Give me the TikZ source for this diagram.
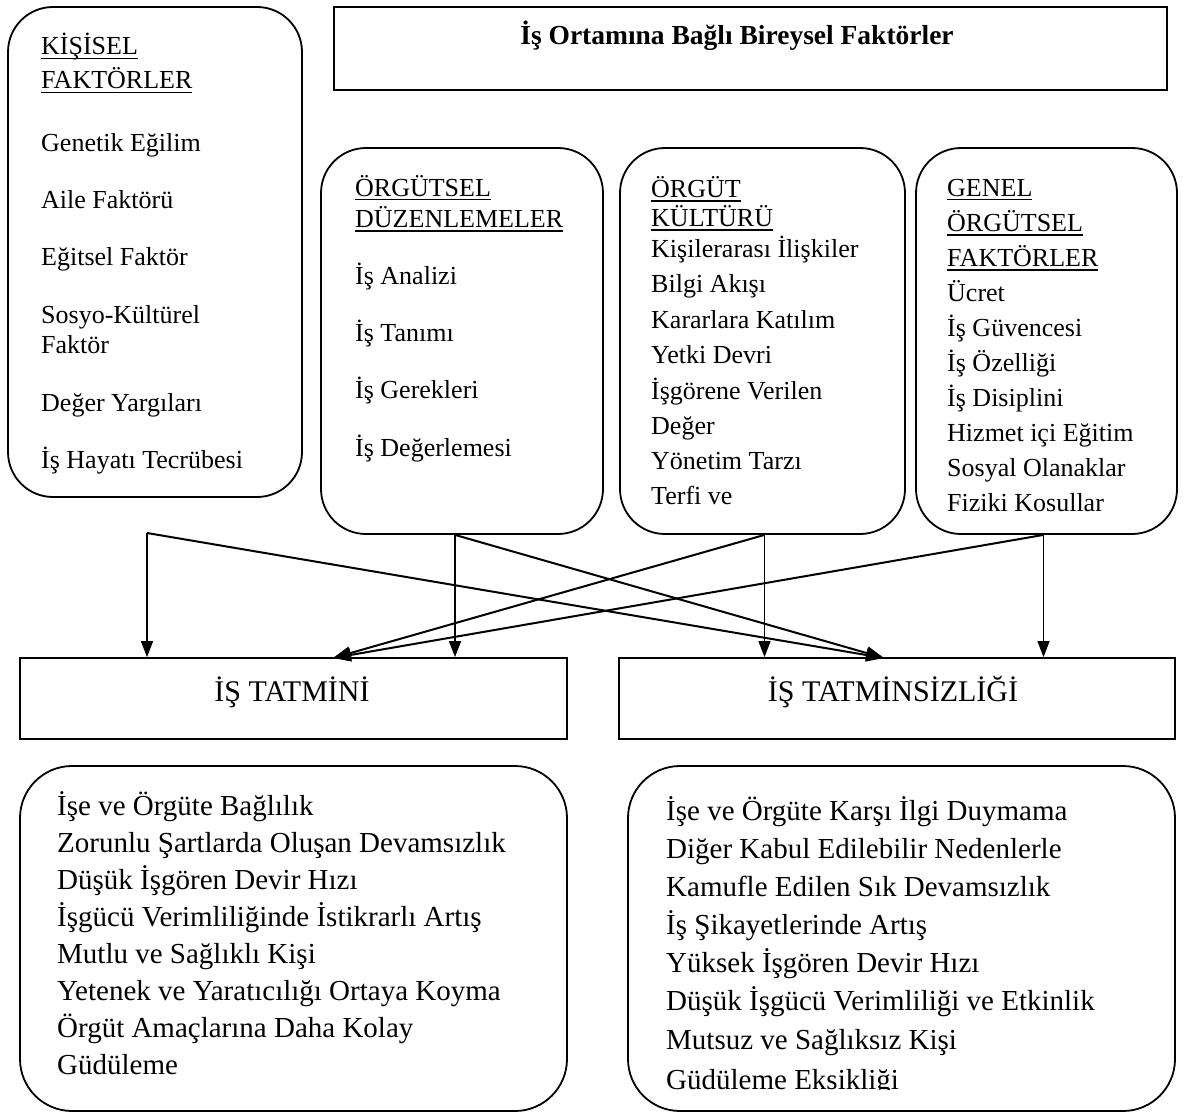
\documentclass[tikz,border=0pt]{standalone}
\usepackage{fontspec}
\setmainfont{Liberation Serif}
\usetikzlibrary{arrows.meta}
\newsavebox\hdrbox
\newcommand{\hdr}[1]{\sbox\hdrbox{#1}\rlap{\rule[-4.5pt]{\wd\hdrbox}{1.7pt}}\usebox\hdrbox}
\tikzset{
  rbox/.style={draw, line width=1.8pt, rounded corners=45pt, inner sep=0pt},
  bigrbox/.style={draw, line width=1.8pt, rounded corners=52pt, inner sep=0pt},
  sbox/.style={draw, line width=1.8pt, inner sep=0pt},
  txt/.style={anchor=base west, inner sep=0pt, font=\fontsize{26}{30}\selectfont},
  btxt/.style={anchor=base west, inner sep=0pt, font=\fontsize{29}{34}\selectfont},
  thinarrow/.style={line width=1.4pt, -{Triangle[length=16pt,width=12pt]}},
  thickarrow/.style={line width=2pt, -{Triangle[length=18pt,width=13pt]}},
}
\begin{document}
\begin{tikzpicture}[x=1pt,y=-1pt]
\useasboundingbox (0,0) rectangle (1194,1113);
\fill[white] (0,0) rectangle (1194,1113);

% boxes
\node[rbox, minimum width=294pt, minimum height=490pt] (kis) at (155,252) {};
\node[sbox, minimum width=833pt, minimum height=83pt] (title) at (750.5,48.5) {};
\node[rbox, minimum width=282pt, minimum height=386pt] (org) at (462,341) {};
\node[rbox, minimum width=285pt, minimum height=386pt] (kul) at (762.5,341) {};
\node[rbox, minimum width=261pt, minimum height=386pt] (gen) at (1046.5,341) {};
\node[sbox, minimum width=547pt, minimum height=81pt] (tat) at (293.5,698.5) {};
\node[sbox, minimum width=556pt, minimum height=81pt] (tats) at (897,698.5) {};
\node[bigrbox, minimum width=547pt, minimum height=345pt] (sonl) at (293.5,938.5) {};
\node[bigrbox, minimum width=547pt, minimum height=345pt] (sonr) at (901.5,938.5) {};

% title and result labels
\node[inner sep=0pt, anchor=base, font=\bfseries\fontsize{27.5}{32}\selectfont] (ttl) at (737,45) {İş Ortamına Bağlı Bireysel Faktörler};
\node[inner sep=0pt, anchor=base, font=\fontsize{30}{34}\selectfont] (tatl) at (292,701) {İŞ TATMİNİ};
\node[inner sep=0pt, anchor=base, font=\fontsize{30}{34}\selectfont] (tatsl) at (893,701) {İŞ TATMİNSİZLİĞİ};

% texts in boxes
\foreach \t/\y [count=\i] in {{\hdr{KİŞİSEL}}/55, {\hdr{FAKTÖRLER}}/89, Genetik Eğilim/151, Aile Faktörü/208, Eğitsel Faktör/265, Sosyo-Kültürel/323, Faktör/353, Değer Yargıları/411, İş Hayatı Tecrübesi/468}
  \node[txt] (k\i) at (41,\y) {\t};
\foreach \t/\y [count=\i] in {{\hdr{ÖRGÜTSEL}}/196, {\hdr{DÜZENLEMELER}}/227, İş Analizi/284, İş Tanımı/341, İş Gerekleri/398, İş Değerlemesi/456}
  \node[txt] (o\i) at (355,\y) {\t};
\foreach \t/\y [count=\i] in {{\hdr{ÖRGÜT}}/197, {\hdr{KÜLTÜRÜ}}/226, Kişilerarası İlişkiler/257, Bilgi Akışı/292, Kararlara Katılım/328, Yetki Devri/363, İşgörene Verilen/399, Değer/434, Yönetim Tarzı/469, Terfi ve/504}
  \node[txt] (c\i) at (651,\y) {\t};
\foreach \t/\y [count=\i] in {{\hdr{GENEL}}/196, {\hdr{ÖRGÜTSEL}}/231, {\hdr{FAKTÖRLER}}/266, Ücret/301, İş Güvencesi/336, İş Özelliği/371, İş Disiplini/406, Hizmet içi Eğitim/441, Sosyal Olanaklar/476, Fiziki Kosullar/511}
  \node[txt] (g\i) at (947,\y) {\t};
\foreach \t/\y [count=\i] in {İşe ve Örgüte Bağlılık/815, Zorunlu Şartlarda Oluşan Devamsızlık/852, Düşük İşgören Devir Hızı/889, İşgücü Verimliliğinde İstikrarlı Artış/926, Mutlu ve Sağlıklı Kişi/963, Yetenek ve Yaratıcılığı Ortaya Koyma/1000, Örgüt Amaçlarına Daha Kolay/1037, Güdüleme/1074}
  \node[btxt] (l\i) at (57,\y) {\t};
\begin{scope}
\clip (600,770) rectangle (1194,1089);
\foreach \t/\y [count=\i] in {İşe ve Örgüte Karşı İlgi Duymama/820, Diğer Kabul Edilebilir Nedenlerle/858, Kamufle Edilen Sık Devamsızlık/896, İş Şikayetlerinde Artış/934, Yüksek İşgören Devir Hızı/972, Düşük İşgücü Verimliliği ve Etkinlik/1010, Mutsuz ve Sağlıksız Kişi/1049, Güdüleme Eksikliği/1089}
  \node[btxt] (r\i) at (666,\y) {\t};
\end{scope}

% connectors
\coordinate (ks) at (147,533);
\coordinate (os) at ([xshift=-7pt]org.south);
\coordinate (cs) at ([xshift=2pt]kul.south);
\coordinate (gs) at ([xshift=-3pt]gen.south);
\coordinate (tin) at (333,658);
\coordinate (tout) at (884,658);
\draw[thinarrow] (ks) -- (ks |- tat.north);
\draw[thinarrow] (os) -- (os |- tat.north);
\draw[thinarrow] (cs) -- (cs |- tats.north);
\draw[thinarrow] (gs) -- (gs |- tats.north);
\draw[thickarrow] (ks) -- (tout);
\draw[thickarrow] (os) -- (tout);
\draw[thickarrow] (cs) -- (tin);
\draw[thickarrow] (gs) -- (tin);
\end{tikzpicture}
\end{document}
